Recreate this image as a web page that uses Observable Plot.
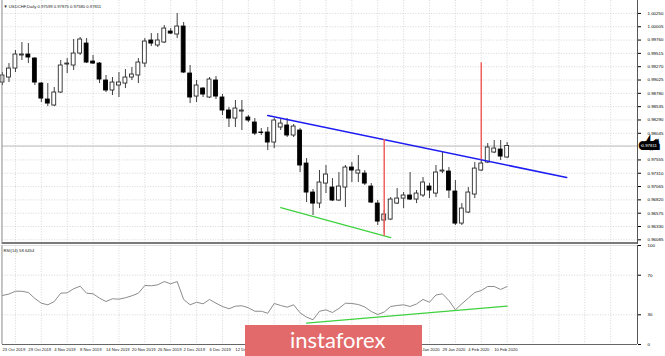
<!DOCTYPE html>
<html><head><meta charset="utf-8">
<script src="https://cdn.jsdelivr.net/npm/d3@7"></script>
<script src="https://cdn.jsdelivr.net/npm/@observablehq/plot@0.6"></script>
<style>
body{margin:0;background:#fff;}
#wrap{position:relative;width:665px;height:356px;overflow:hidden;background:#fff;}
#wrap svg{display:block;position:absolute;left:0;}
#banner{position:absolute;left:245px;top:325px;width:177px;height:34px;background:#e36a6a;}
#banner span{position:absolute;left:45px;top:1px;color:#fff;font-family:Lato,"Open Sans",sans-serif;font-size:22px;letter-spacing:0px;}
</style></head>
<body><div id="wrap"><div id="banner"><span>instaforex</span></div></div>
<script>
// ---- data ----
const dates = ["2019-10-21","2019-10-22","2019-10-23","2019-10-24","2019-10-25","2019-10-28","2019-10-29","2019-10-30","2019-10-31","2019-11-01",
"2019-11-04","2019-11-05","2019-11-06","2019-11-07","2019-11-08","2019-11-11","2019-11-12","2019-11-13","2019-11-14","2019-11-15",
"2019-11-18","2019-11-19","2019-11-20","2019-11-21","2019-11-22","2019-11-25","2019-11-26","2019-11-27","2019-11-28","2019-11-29",
"2019-12-02","2019-12-03","2019-12-04","2019-12-05","2019-12-06","2019-12-09","2019-12-10","2019-12-11","2019-12-12","2019-12-13",
"2019-12-16","2019-12-17","2019-12-18","2019-12-19","2019-12-20","2019-12-23","2019-12-24","2019-12-26","2019-12-27","2019-12-30",
"2019-12-31","2020-01-02","2020-01-03","2020-01-06","2020-01-07","2020-01-08","2020-01-09","2020-01-10","2020-01-13","2020-01-14",
"2020-01-15","2020-01-16","2020-01-17","2020-01-20","2020-01-21","2020-01-22","2020-01-23","2020-01-24","2020-01-27","2020-01-28",
"2020-01-29","2020-01-30","2020-01-31","2020-02-03","2020-02-04","2020-02-05","2020-02-06","2020-02-07","2020-02-10"];
const open = [0.98979,0.99071,0.99236,0.99476,0.99494,0.99420,0.98960,0.98666,0.98556,0.98795,
0.99310,0.99292,0.99512,0.99696,0.99365,0.99328,0.99016,0.98832,0.98924,0.98960,
0.99071,0.99108,0.99328,0.99752,0.99660,0.99715,0.99917,0.99862,1.00009,0.99144,
0.98721,0.98868,0.98703,0.99016,0.98703,0.98464,0.98316,0.98445,0.98335,0.98243,
0.98059,0.98059,0.97875,0.98151,0.98188,0.98004,0.98096,0.97488,0.96955,0.96752,
0.97120,0.97047,0.96808,0.97047,0.97415,0.97304,0.97304,0.97065,0.96752,0.96440,
0.96458,0.96752,0.96844,0.96900,0.96826,0.96900,0.97065,0.96936,0.97341,0.97341,
0.96973,0.96384,0.96587,0.96918,0.97360,0.97507,0.97691,0.97746,0.97599];
const high = [0.99163,0.99328,0.99568,0.99715,0.99696,0.99439,0.98979,0.98960,0.98887,0.99384,
0.99420,0.99770,0.99807,0.99788,0.99476,0.99347,0.99108,0.99071,0.99163,0.99218,
0.99255,0.99420,0.99788,0.99880,0.99880,1.00028,0.99972,1.00248,1.00083,0.99292,
0.99016,0.98887,0.99071,0.99089,0.98758,0.98519,0.98648,0.98648,0.98372,0.98316,
0.98132,0.98151,0.98316,0.98298,0.98316,0.98206,0.98132,0.97580,0.97010,0.97360,
0.97452,0.97212,0.97323,0.97452,0.97507,0.97636,0.97360,0.97120,0.96808,0.96624,
0.96863,0.97028,0.96955,0.97323,0.96992,0.97231,0.97120,0.97452,0.97691,0.97415,
0.97176,0.96752,0.97047,0.97507,0.97544,0.97856,0.97912,0.97912,0.97875];
const low = [0.98924,0.98979,0.99163,0.99384,0.99328,0.98924,0.98611,0.98537,0.98537,0.98776,
0.99144,0.99200,0.99476,0.99328,0.99310,0.98960,0.98795,0.98740,0.98703,0.98868,
0.99016,0.98960,0.99255,0.99641,0.99623,0.99696,0.99862,0.99788,0.99144,0.98592,
0.98611,0.98703,0.98684,0.98666,0.98372,0.98151,0.98151,0.98096,0.98243,0.98004,
0.98004,0.97728,0.97764,0.98096,0.97967,0.97967,0.97323,0.96771,0.96532,0.96660,
0.96936,0.96789,0.96789,0.96679,0.97139,0.97139,0.97084,0.96752,0.96348,0.96200,
0.96440,0.96734,0.96660,0.96808,0.96752,0.96863,0.96844,0.96863,0.97304,0.96844,
0.96348,0.96348,0.96568,0.96844,0.97341,0.97488,0.97672,0.97544,0.97580];
const close = [0.99108,0.99236,0.99494,0.99494,0.99439,0.98979,0.98684,0.98592,0.98795,0.99292,
0.99328,0.99512,0.99770,0.99347,0.99328,0.99034,0.98832,0.98979,0.98979,0.99071,
0.99126,0.99347,0.99733,0.99696,0.99752,0.99972,0.99880,1.00009,0.99163,0.98703,
0.98924,0.98758,0.99034,0.98721,0.98464,0.98316,0.98500,0.98464,0.98280,0.98040,
0.98050,0.97875,0.98280,0.98224,0.98004,0.98169,0.97452,0.96955,0.96752,0.97139,
0.97286,0.96808,0.97065,0.97415,0.97360,0.97360,0.97120,0.96771,0.96421,0.96550,
0.96826,0.96844,0.96900,0.96826,0.96936,0.97139,0.96992,0.97323,0.97360,0.96992,
0.96384,0.96660,0.96955,0.97396,0.97488,0.97783,0.97764,0.97617,0.97811];
const rsi = [49.5,51,53.8,53.8,52.5,46.5,41.7,40.1,43.4,51.8,
52.2,56.3,58.9,51.8,51.2,46.8,43.4,46.2,45.8,47.2,
49.2,51.8,59.6,59.3,60.3,63.6,61.3,63.6,45.5,40.1,
42.7,41.1,45.5,41.7,38.4,36.1,38.7,39.1,37.1,33.6,
33.6,31.6,41.4,39.4,37.7,40.1,32,27.6,25,33.6,
35,32.3,36.4,41.7,41.4,40.4,37.9,33.3,30.3,32.8,
38.4,39.4,40.1,38.4,40.9,45.5,42.7,50,51.2,44.4,
35,41.1,46.8,52.5,54.5,58.6,58.6,55.6,58.6];

// price grid levels; the 0.97800 label sits under the current-price box
const priceTicks = [1.00250,1.00005,0.99760,0.99515,0.99270,0.99025,0.98780,0.98535,0.98290,0.98045,0.97800,0.97555,0.97310,0.97065,0.96820,0.96575,0.96330,0.96085];
const priceLabelTicks = [1.00250,1.00005,0.99760,0.99515,0.99270,0.99025,0.98780,0.98535,0.98290,0.98045,0.97555,0.97310,0.97065,0.96820,0.96575,0.96330,0.96085];
const rsiTicks = [0,30,70,100];
const rsiLevels = [30,70];
// date labels visible in the reference (the ones under the banner are hidden by it)
const dateTickIdx = [2,6,10,14,18,22,26,30,34,38,66,70,74,78];
const dateTickLabels = ["23 Oct 2019","29 Oct 2019","4 Nov 2019","8 Nov 2019","14 Nov 2019","20 Nov 2019","26 Nov 2019","2 Dec 2019","6 Dec 2019","12 Dec 2019","23 Jan 2020","29 Jan 2020","4 Feb 2020","10 Feb 2020"];
const gridIdx = [2,6,10,14,18,22,26,30,34,38,42,46,50,54,58,62,66,70,74,78,82,86,90,94];

// trend lines (bar index, price)
const blueIdx = [41, 87.2], bluePrice = [0.98372, 0.97231];
const greenIdx = [43, 60], greenPrice = [0.96679, 0.96127];
const redIdx = [59, 74], redLow = [0.96150, 0.97557], redHigh = [0.97930, 0.99342];
const rsiGreenIdx = [47, 78], rsiGreenVal = [21.5, 38.7];

const symbol = "USDCHF,Daily";
const rsiTitle = "RSI(14) 58.6454";

// ---- build ----
const bars = dates.map((d, i) => ({i, date: d, o: open[i], h: high[i], l: low[i], c: close[i], r: rsi[i]}));
const up = bars.filter(b => b.c >= b.o), down = bars.filter(b => b.c < b.o);
const last = bars[bars.length - 1];
const pts = (xs, ys) => xs.map((x, k) => ({x, y: ys[k]}));
const reds = redIdx.map((x, k) => ({x, y1: redLow[k], y2: redHigh[k]}));

const W = 665, H1 = 244, H2 = 112;
const xDomain = [0, 98.15];
const font = {fontFamily: "'Liberation Sans', Arial, sans-serif", fontSize: "4.4px", background: "transparent", overflow: "visible"};
const gridStyle = {stroke: "#cdcdcd", strokeDasharray: "1,1.6", strokeWidth: 0.8};

const p1 = Plot.plot({
  width: W, height: H1, marginLeft: 2, marginRight: 28, marginTop: 0, marginBottom: 0,
  style: font,
  x: {domain: xDomain, axis: null},
  y: {domain: [0.95999, 1.00488], axis: "right", ticks: priceLabelTicks, tickFormat: d => d.toFixed(5), tickSize: 3, tickPadding: 7, label: null},
  marks: [
    Plot.ruleY(priceTicks, gridStyle),
    Plot.ruleX(gridIdx, gridStyle),
    Plot.ruleY([last.c], {stroke: "#bdbdbd", strokeWidth: 1}),
    Plot.ruleX(bars, {x: "i", y1: "l", y2: "h", stroke: "#2a2a2a", strokeWidth: 0.9}),
    Plot.rect(up, {x1: d => d.i - 0.3, x2: d => d.i + 0.3, y1: "o", y2: "c", fill: "#fff", stroke: "#2a2a2a", strokeWidth: 0.9}),
    Plot.rect(down, {x1: d => d.i - 0.3, x2: d => d.i + 0.3, y1: "o", y2: "c", fill: "#000", stroke: "#000", strokeWidth: 0.9}),
    Plot.line(pts(blueIdx, bluePrice), {x: "x", y: "y", stroke: "#1d1df2", strokeWidth: 1.6}),
    Plot.line(pts(greenIdx, greenPrice), {x: "x", y: "y", stroke: "#3fd13f", strokeWidth: 1.3}),
    Plot.ruleX(reds, {x: "x", y1: "y1", y2: "y2", stroke: "#f25f5f", strokeWidth: 1.5}),
    Plot.ruleX([xDomain[1]], {stroke: "#555", strokeWidth: 1}),
    Plot.ruleX([xDomain[0] - 0.08], {stroke: "#8a8a8a", strokeWidth: 1}),
    Plot.ruleY([0.96026], {stroke: "#7a7a7a", strokeWidth: 2}),
    Plot.text([`\u25BC ${symbol} ${last.o.toFixed(5)} ${last.h.toFixed(5)} ${last.l.toFixed(5)} ${last.c.toFixed(5)}`],
      {frameAnchor: "top-left", dx: 1, dy: 5, textAnchor: "start", fill: "#222", fontSize: 4.2}),
    Plot.text([last.c], {y: d => d, frameAnchor: "right", dx: 4, textAnchor: "start", text: d => d.toFixed(5),
      fill: "#fff", stroke: "#000", strokeWidth: 6, strokeLinejoin: "miter", fontSize: 4.4})
  ]
});
p1.style.top = "0px";

const p2 = Plot.plot({
  width: W, height: H2, marginLeft: 2, marginRight: 28, marginTop: 1, marginBottom: 12,
  style: font,
  x: {domain: xDomain, axis: null},
  y: {domain: [0, 100], axis: "right", ticks: rsiTicks, tickSize: 3, tickPadding: 7, label: null},
  marks: [
    Plot.ruleY(rsiLevels, gridStyle),
    Plot.ruleX(gridIdx, gridStyle),
    Plot.line(bars, {x: "i", y: "r", stroke: "#8c8c8c", strokeWidth: 1}),
    Plot.line(pts(rsiGreenIdx, rsiGreenVal), {x: "x", y: "y", stroke: "#3fd13f", strokeWidth: 1.3}),
    Plot.ruleX([xDomain[1]], {stroke: "#555", strokeWidth: 1}),
    Plot.ruleX([xDomain[0] - 0.08], {stroke: "#8a8a8a", strokeWidth: 1}),
    Plot.ruleY([0], {stroke: "#666", strokeWidth: 1}),
    Plot.ruleY([100], {stroke: "#c8c8c8", strokeWidth: 0.6}),
    Plot.text([rsiTitle], {frameAnchor: "top-left", dx: 1, dy: 4, textAnchor: "start", fill: "#222", fontSize: 4.2}),
    Plot.text(dateTickIdx, {x: d => d, frameAnchor: "bottom", dy: 6, dx: -13, textAnchor: "start",
      text: (d, k) => dateTickLabels[k], fill: "#222", fontSize: 4.2})
  ]
});
p2.style.top = "244px";

const wrap = document.getElementById("wrap");
wrap.insertBefore(p2, wrap.firstChild);
wrap.insertBefore(p1, wrap.firstChild);
</script>
</body></html>
